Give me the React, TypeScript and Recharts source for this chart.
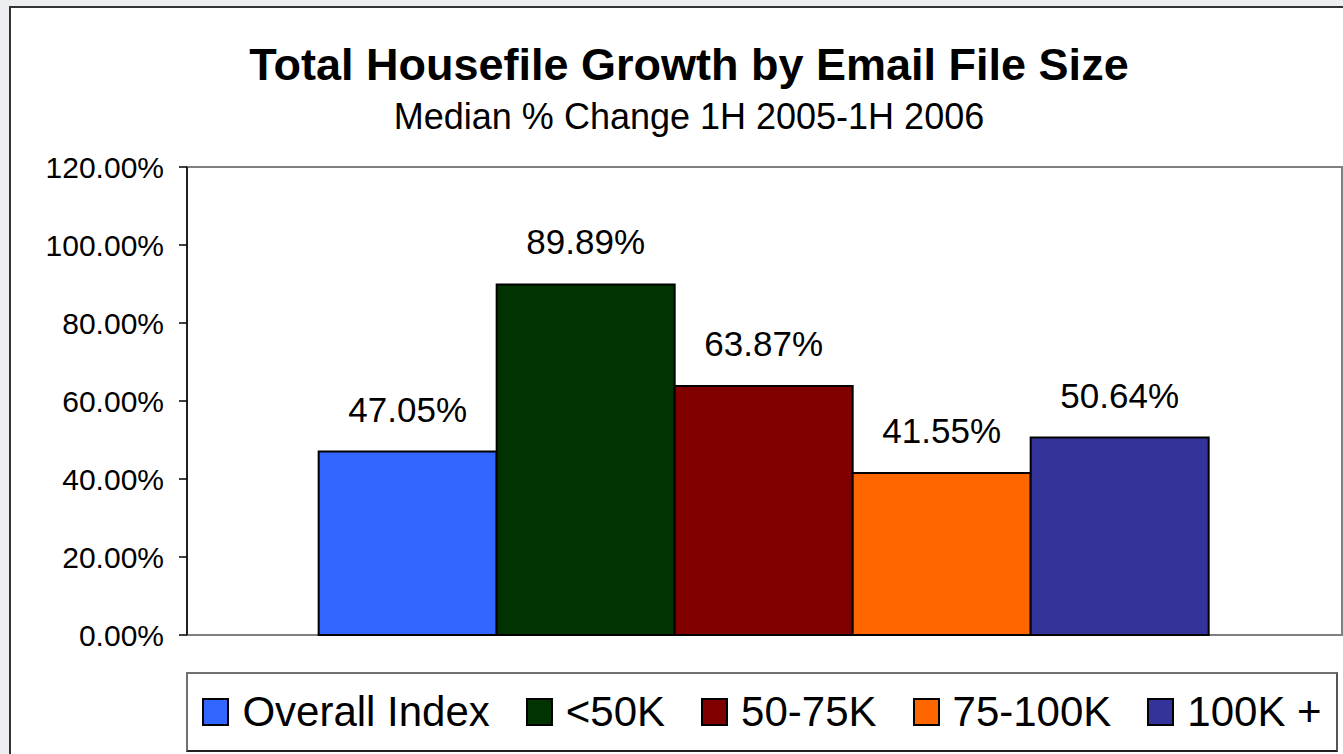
import { BarChart, Bar, XAxis, YAxis, Legend, LabelList, ReferenceArea } from "recharts";

const FONT = "'Liberation Sans', Arial, sans-serif";

// series, one bar each, all in a single category
const seriesNames = ["Overall Index", "<50K", "50-75K", "75-100K", "100K +"];
const seriesKeys = ["overall", "under50", "k50to75", "k75to100", "over100"];
const seriesValues = [47.05, 89.89, 63.87, 41.55, 50.64];
const seriesColors = ["#3366FF", "#003300", "#800000", "#FF6600", "#333399"];
const yTicks = [0, 20, 40, 60, 80, 100, 120];

const row: Record<string, string | number> = { name: "" };
seriesKeys.forEach((k, i) => {
  row[k] = seriesValues[i];
});
const data = [row];

const pct = (v: number) => `${Number(v).toFixed(2)}%`;

function renderLegend() {
  return (
    <div
      style={{
        boxSizing: "border-box",
        height: 80,
        width: 1152,
        border: "2px solid #707070",
        borderBottomColor: "#222",
        borderRightColor: "#555",
        background: "#fff",
        display: "flex",
        alignItems: "center",
        justifyContent: "center",
        gap: 36,
        fontFamily: FONT,
        fontSize: 42,
        color: "#000",
      }}
    >
      {seriesNames.map((name, i) => (
        <div key={name} style={{ display: "flex", alignItems: "center", gap: 13 }}>
          <span
            style={{
              boxSizing: "border-box",
              display: "inline-block",
              width: 27,
              height: 28,
              background: seriesColors[i],
              border: "2.5px solid #000",
            }}
          />
          <span style={{ lineHeight: 1, whiteSpace: "pre" }}>{name}</span>
        </div>
      ))}
    </div>
  );
}

export default function App() {
  return (
    <div
      style={{
        position: "fixed",
        left: 0,
        top: 0,
        width: 1343,
        height: 754,
        overflow: "hidden",
        background: "#eceef2",
        fontFamily: FONT,
      }}
    >
      <div
        style={{
          position: "absolute",
          left: 9,
          top: 6,
          width: 1400,
          height: 800,
          background: "#fff",
          border: "2px solid #333",
        }}
      />
      <div
        style={{
          position: "absolute",
          left: 0,
          top: 42,
          width: 1378,
          textAlign: "center",
          fontSize: 45,
          lineHeight: "45px",
          fontWeight: "bold",
          color: "#000",
        }}
      >
        Total Housefile Growth by Email File Size
      </div>
      <div
        style={{
          position: "absolute",
          left: 0,
          top: 99,
          width: 1378,
          textAlign: "center",
          fontSize: 36,
          lineHeight: "36px",
          color: "#000",
        }}
      >
        Median % Change 1H 2005-1H 2006
      </div>
      <div style={{ position: "absolute", left: 0, top: 0 }}>
        <BarChart
          width={1343}
          height={754}
          data={data}
          margin={{ top: 167, right: 1, bottom: 39, left: 0 }}
          barCategoryGap="11.4%"
          barGap={0}
        >
          <ReferenceArea y1={0} y2={120} fill="#fff" fillOpacity={0} stroke="#808080" strokeWidth={2} />
          <XAxis
            dataKey="name"
            height={0}
            tick={false}
            tickLine={false}
            axisLine={{ stroke: "#808080", strokeWidth: 2 }}
          />
          <YAxis
            width={187}
            domain={[0, 120]}
            ticks={yTicks}
            interval={0}
            tickFormatter={pct}
            tickSize={8}
            tickMargin={15}
            tick={{ fontSize: 30, fill: "#000", fontFamily: FONT }}
            tickLine={{ stroke: "#000", strokeWidth: 1.5 }}
            axisLine={{ stroke: "#000", strokeWidth: 1.5 }}
          />
          <Legend
            verticalAlign="bottom"
            content={renderLegend}
            wrapperStyle={{ top: 672, left: 186, width: 1152, height: 80, bottom: "auto" }}
          />
          {seriesKeys.map((k, i) => (
            <Bar
              key={k}
              dataKey={k}
              name={seriesNames[i]}
              fill={seriesColors[i]}
              stroke="#000"
              strokeWidth={2}
              isAnimationActive={false}
            >
              <LabelList
                dataKey={k}
                position="top"
                offset={30}
                formatter={(v: any) => pct(v)}
                style={{ fontSize: 35, fill: "#000", fontFamily: FONT }}
              />
            </Bar>
          ))}
        </BarChart>
      </div>
    </div>
  );
}
